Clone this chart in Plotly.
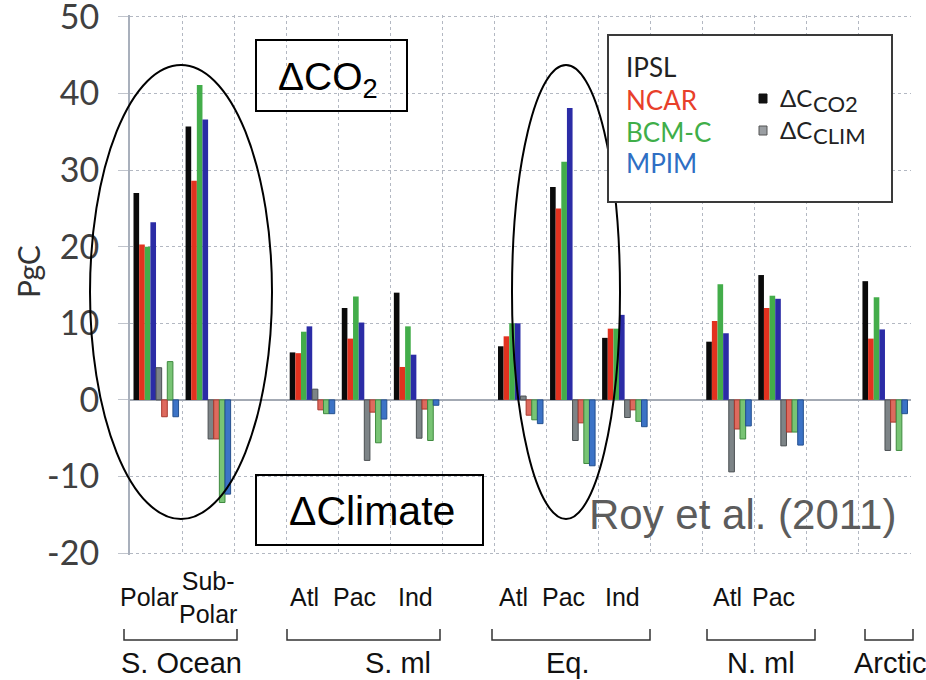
import plotly.graph_objects as go

# ---------------- data ----------------
categories = ["Polar", "Sub-Polar", "S.ml Atl", "S.ml Pac", "S.ml Ind",
              "Eq Atl", "Eq Pac", "Eq Ind", "N.ml Atl", "N.ml Pac", "Arctic"]
slots = [0, 1, 3, 4, 5, 7, 8, 9, 11, 12, 14]
models = ["IPSL", "NCAR", "BCM-C", "MPIM"]

co2_ipsl = [27.0, 35.7, 6.2, 12.0, 14.0, 7.0, 27.8, 8.1, 7.6, 16.3, 15.5]
co2_ncar = [20.3, 28.6, 6.1, 8.0, 4.3, 8.3, 25.0, 9.3, 10.3, 12.0, 8.0]
co2_bcm = [20.0, 41.1, 8.9, 13.5, 9.6, 10.0, 31.1, 9.3, 15.1, 13.6, 13.4]
co2_mpim = [23.2, 36.6, 9.6, 10.1, 5.9, 10.0, 38.1, 11.1, 8.7, 13.2, 9.2]

clim_ipsl = [4.2, -5.1, 1.4, -7.9, -5.0, 0.5, -5.3, -2.3, -9.4, -6.0, -6.6]
clim_ncar = [-2.2, -5.1, -1.3, -1.6, -1.2, -2.0, -3.0, -1.3, -3.8, -4.2, -2.9]
clim_bcm = [5.0, -13.4, -1.8, -5.6, -5.3, -2.6, -8.3, -2.8, -5.1, -4.2, -6.6]
clim_mpim = [-2.2, -12.3, -1.8, -2.5, -0.7, -3.1, -8.6, -3.5, -3.4, -5.9, -1.8]

cat_labels = ["Polar", "Sub-<br>Polar", "Atl", "Pac", "Ind", "Atl", "Pac", "Ind", "Atl", "Pac", ""]
groups = ["S. Ocean", "S. ml", "Eq.", "N. ml", "Arctic"]
y_ticks = [-20, -10, 0, 10, 20, 30, 40, 50]
y_ticktext = ["-20", "-10", "0", "10", "20", "30", "40", "50"]

# ---------------- styles ----------------
co2_colors = ["#0a0a0a", "#e2321f", "#43ad4a", "#2b2ca6"]
clim_colors = ["#7d8487", "#de6a5e", "#78c474", "#3c73c6"]
clim_lines = ["#4a4f52", "#a8392e", "#3f8a3f", "#24508f"]
legend_text_colors = ["#222222", "#e8402a", "#3fae49", "#2f6fc4"]

W, H = 926, 680
L, R, T, B = 130, 15, 15, 125
PW, PH = W - L - R, H - T - B


def pxx(xp):
    return (xp - L) / PW


def pyy(yp):
    return (H - B - yp) / PH


fig = go.Figure()
co2_series = [co2_ipsl, co2_ncar, co2_bcm, co2_mpim]
clim_series = [clim_ipsl, clim_ncar, clim_bcm, clim_mpim]
for i, m in enumerate(models):
    fig.add_trace(go.Bar(x=slots, y=co2_series[i], name=m + " ΔC CO2",
                         marker=dict(color=co2_colors[i], line=dict(width=0))))
for i, m in enumerate(models):
    fig.add_trace(go.Bar(x=slots, y=clim_series[i], name=m + " ΔC CLIM",
                         marker=dict(color=clim_colors[i],
                                     line=dict(width=1, color=clim_lines[i]))))

grid_col = "#b3b8c2"
fig.update_layout(
    width=W, height=H,
    margin=dict(l=L, r=R, t=T, b=B),
    paper_bgcolor="white", plot_bgcolor="white",
    barmode="group", bargap=0.135, bargroupgap=0,
    showlegend=False,
    font=dict(family="Liberation Sans, Arial, sans-serif", color="#222"),
    xaxis=dict(range=[-0.5, 14.5], tickvals=[k - 0.5 for k in range(16)],
               showticklabels=False, ticks="", showgrid=True, automargin=False,
               gridcolor=grid_col, griddash="3px,3px", gridwidth=1,
               zeroline=False, showline=False),
    yaxis=dict(range=[-20.25, 50.25], tickvals=y_ticks, ticktext=y_ticktext,
               showgrid=True, automargin=False,
               gridcolor=grid_col, griddash="3px,3px", gridwidth=1,
               zeroline=True, zerolinecolor="#a3a9b3", zerolinewidth=1.5,
               showline=True, linecolor="#a9b0bc", linewidth=2,
               ticks="outside", ticklen=10, tickcolor="#c0c4cc", tickwidth=1,
               ticklabelstandoff=12, ticklabeloverflow="allow",
               tickfont=dict(family="Lato, Open Sans, sans-serif", size=34, color="#404040")),
)

shapes = []
annotations = []


def ann(x, y, text, size, color="#111", family="Liberation Sans, Arial", xanchor="center", **kw):
    annotations.append(dict(xref="paper", yref="paper", x=pxx(x), y=pyy(y), text=text,
                            showarrow=False, xanchor=xanchor, yanchor="middle",
                            font=dict(family=family, size=size, color=color), **kw))


# y-axis title
ann(28, 272, "PgC", 30, color="#333", family="Lato, Open Sans, sans-serif", textangle=-90)

# category labels
label_x = [149, 208, 304, 354, 415, 513, 563, 622, 727, 773, 0]
for lab, xp in zip(cat_labels, label_x):
    if not lab:
        continue
    ann(xp, 597, lab, 25, family="Liberation Sans Narrow, Arial Narrow, Liberation Sans")

# brackets and group labels
brackets = [(124, 237), (287, 440), (492, 650), (707, 815), (865, 913)]
group_x = [181, 398, 568, 761, 890]
for (x0, x1), g, gx in zip(brackets, groups, group_x):
    shapes.append(dict(type="path", xref="paper", yref="paper",
                       path=f"M {pxx(x0)} {pyy(629)} L {pxx(x0)} {pyy(640)} L {pxx(x1)} {pyy(640)} L {pxx(x1)} {pyy(629)}",
                       line=dict(color="#333", width=1.5)))
    ann(gx, 663, g, 29, family="Liberation Sans Narrow, Arial Narrow, Liberation Sans")

# ellipses
for (x0, x1) in [(90, 272), (512, 620)]:
    shapes.append(dict(type="circle", xref="paper", yref="paper",
                       x0=pxx(x0), x1=pxx(x1), y0=pyy(519), y1=pyy(65),
                       line=dict(color="black", width=2), layer="above"))

# text boxes
shapes.append(dict(type="rect", xref="paper", yref="paper",
                   x0=pxx(256), x1=pxx(407), y0=pyy(111), y1=pyy(40),
                   line=dict(color="black", width=2)))
ann(328, 80, "ΔCO<sub>2</sub>", 39, color="black")
shapes.append(dict(type="rect", xref="paper", yref="paper",
                   x0=pxx(256), x1=pxx(483), y0=pyy(545), y1=pyy(475),
                   line=dict(color="black", width=2)))
ann(372, 511, "ΔClimate", 41, color="black")
ann(742, 514, "Roy et al. (2011)", 42, color="#5c5c5c")

# legend box
shapes.append(dict(type="rect", xref="paper", yref="paper",
                   x0=pxx(608), x1=pxx(892), y0=pyy(202), y1=pyy(35),
                   fillcolor="white", line=dict(color="#3a3a3a", width=2), layer="above"))
row_y = [67, 100, 132, 163]
for m, c, yy in zip(models, legend_text_colors, row_y):
    ann(624, yy, m, 26, color=c, family="Lato, Open Sans, sans-serif", xanchor="left")
leg_items = [("CO2", "#111111", "#111111", 98), ("CLIM", "#9a9ea2", "#555", 130)]
for sub, fc, lc, yy in leg_items:
    shapes.append(dict(type="rect", xref="paper", yref="paper",
                       x0=pxx(759), x1=pxx(767), y0=pyy(yy + 5), y1=pyy(yy - 4),
                       fillcolor=fc, line=dict(color=lc, width=1), layer="above"))
    ann(778, yy, "ΔC", 24, color="#222", family="Lato, Open Sans, sans-serif", xanchor="left")
    ann(811, yy + 5, sub, 22, color="#222", family="Lato, Open Sans, sans-serif", xanchor="left")

fig.update_layout(shapes=shapes, annotations=annotations)
fig.write_html("out.html")
